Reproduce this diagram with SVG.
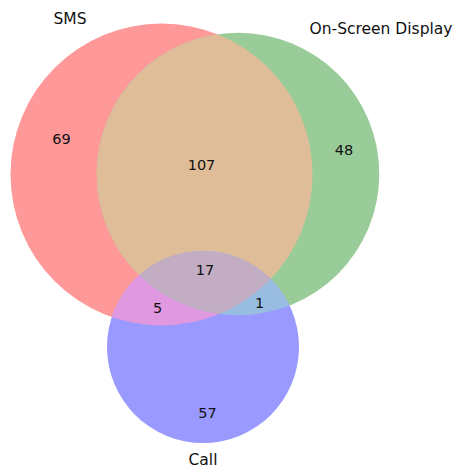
<svg xmlns="http://www.w3.org/2000/svg" width="456" height="469" viewBox="0 0 456 469">
  <style>
    .label { font-family: "DejaVu Sans", "Liberation Sans", sans-serif; font-size: 15.5px; fill: #111111; text-anchor: middle; }
    .count { font-family: "DejaVu Sans", "Liberation Sans", sans-serif; font-size: 14.5px; fill: #111111; text-anchor: middle; }
  </style>
  <defs>
    <circle id="cSMS" cx="161.5" cy="174.5" r="151"/>
    <circle id="cOSD" cx="238" cy="174" r="141.3"/>
    <circle id="cCall" cx="203" cy="347" r="96"/>
    <clipPath id="inSMS"><use href="#cSMS"/></clipPath>
    <clipPath id="inOSD"><use href="#cOSD"/></clipPath>
  </defs>
  <rect width="456" height="469" fill="#ffffff"/>

  <!-- set regions -->
  <g id="sms">
    <use href="#cSMS" fill="#ff9999"/>
  </g>
  <g id="on-screen-display">
    <use href="#cOSD" fill="#99cc99"/>
  </g>
  <g id="call">
    <use href="#cCall" fill="#9999ff"/>
  </g>

  <!-- pairwise and triple overlaps -->
  <g id="sms-osd">
    <use href="#cOSD" fill="#e0bd99" clip-path="url(#inSMS)"/>
  </g>
  <g id="sms-call">
    <use href="#cCall" fill="#e099e0" clip-path="url(#inSMS)"/>
  </g>
  <g id="osd-call">
    <use href="#cCall" fill="#99bde0" clip-path="url(#inOSD)"/>
  </g>
  <g id="sms-osd-call" clip-path="url(#inOSD)">
    <use href="#cCall" fill="#c2adc2" clip-path="url(#inSMS)"/>
  </g>

  <!-- set names -->
  <g id="set-labels">
    <text class="label" x="70" y="24">SMS</text>
    <text class="label" x="381" y="34">On-Screen Display</text>
    <text class="label" x="203" y="465">Call</text>
  </g>

  <!-- region counts -->
  <g id="counts">
    <text class="count" x="61.5" y="144">69</text>
    <text class="count" x="201.5" y="170">107</text>
    <text class="count" x="344" y="155">48</text>
    <text class="count" x="205" y="275">17</text>
    <text class="count" x="157.5" y="313">5</text>
    <text class="count" x="259.5" y="308">1</text>
    <text class="count" x="207.5" y="418">57</text>
  </g>
</svg>
